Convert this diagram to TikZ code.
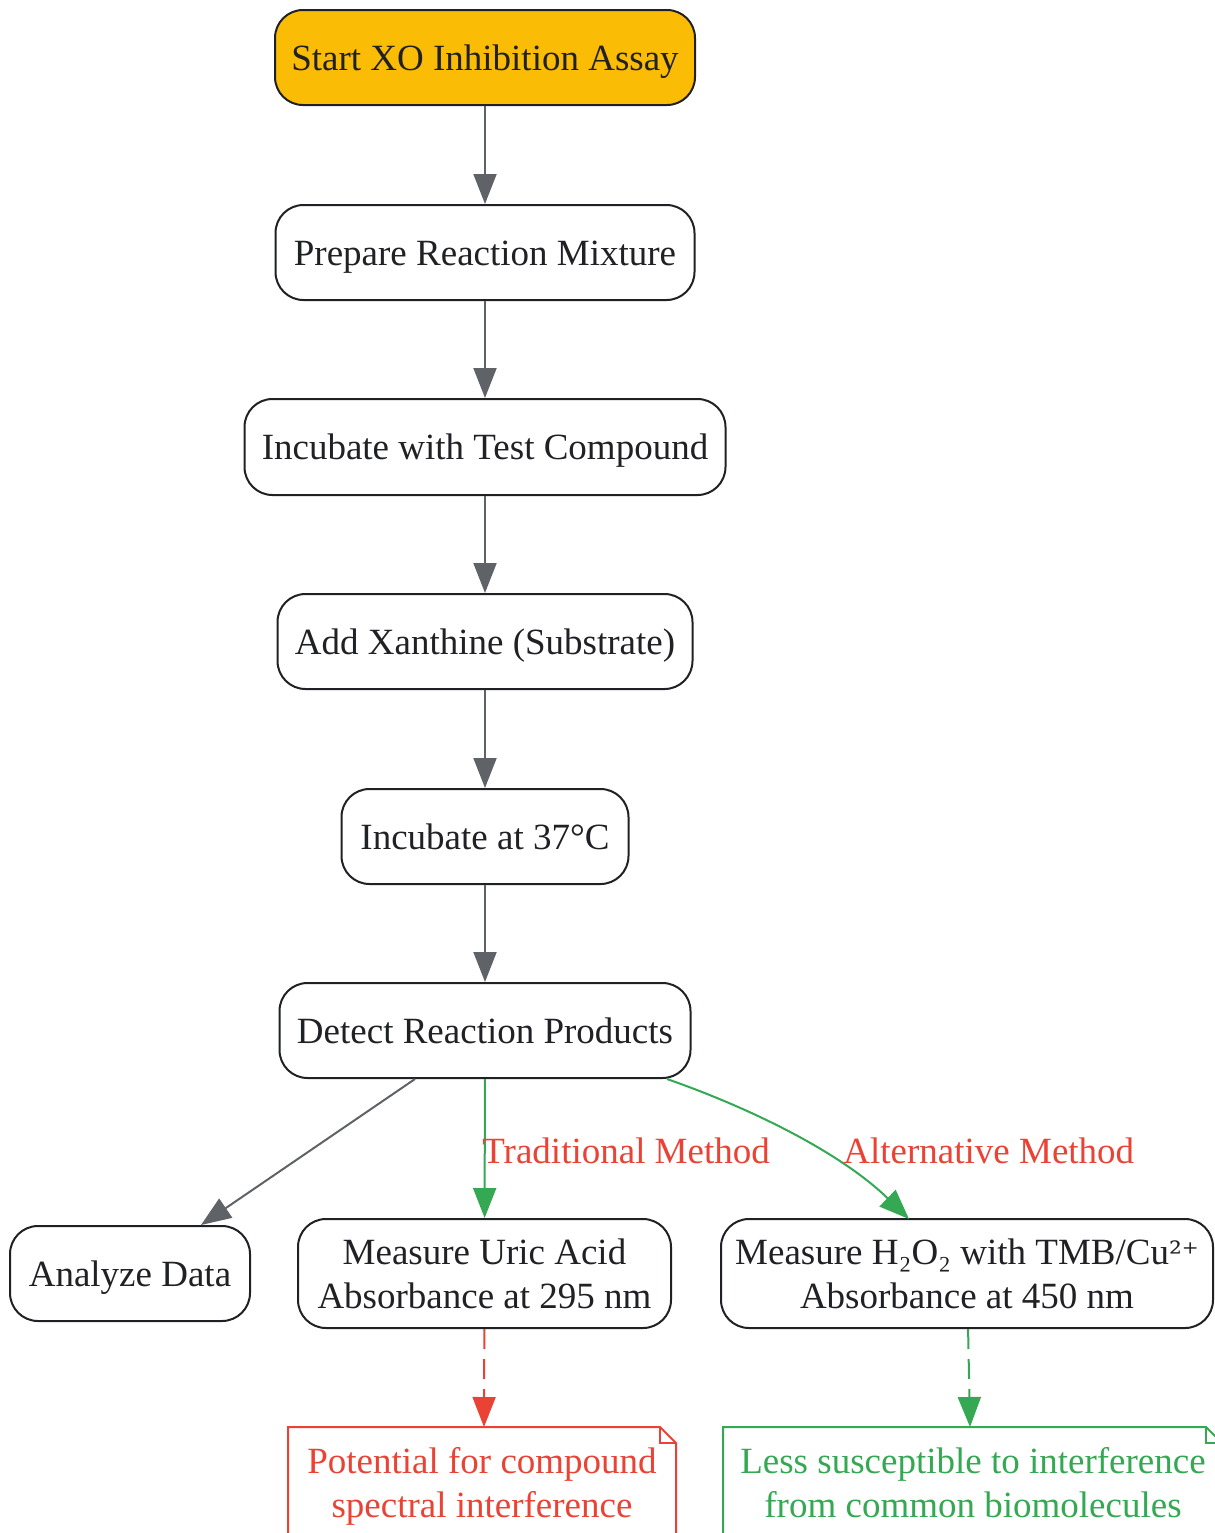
\documentclass[tikz,border=0pt]{standalone}
\usepackage{fontspec}
\setmainfont{Liberation Serif}
\newfontfamily\dvserif{DejaVu Serif}
\usetikzlibrary{arrows.meta}
\definecolor{gold}{HTML}{FBBC05}
\definecolor{edgegray}{HTML}{5F6368}
\definecolor{okgreen}{HTML}{34A853}
\definecolor{badred}{HTML}{EA4335}
\definecolor{txt}{HTML}{202124}
\tikzset{
  stepbox/.style={draw=txt, line width=1pt, rounded corners=14pt, fill=white,
    text=txt, align=center, inner sep=0pt, font=\fontsize{18.5}{22}\selectfont},
  oneline/.style={text height=14.5pt, text depth=2pt},
  tip/.style={-{Triangle[length=15pt,width=11.5pt]}},
  flow/.style={draw=edgegray, line width=1pt, tip},
  good/.style={draw=okgreen, line width=1pt, tip},
  lbl/.style={text=badred, font=\fontsize{18.5}{22}\selectfont, inner sep=0pt, anchor=west},
  notetext/.style={align=center, font=\fontsize{18.5}{22}\selectfont, inner sep=0pt},
  dashlink/.style={line width=1pt, dash pattern=on 10pt off 5pt, tip}
}
\begin{document}
\begin{tikzpicture}[x=0.5pt,y=-0.5pt]
\useasboundingbox (0,0) rectangle (1215,1533);
\clip (0,0) rectangle (1215,1533);
\node[stepbox, oneline, fill=gold, minimum width=210pt, minimum height=47.5pt] (start) at (485,57.5) {Start XO Inhibition Assay};
\node[stepbox, oneline, minimum width=209.5pt, minimum height=47.5pt] (prep) at (485,252.5) {Prepare Reaction Mixture};
\node[stepbox, oneline, minimum width=240.5pt, minimum height=48pt] (inc1) at (485,447) {Incubate with Test Compound};
\node[stepbox, oneline, minimum width=207.5pt, minimum height=47.5pt] (add) at (485,641.5) {Add Xanthine (Substrate)};
\node[stepbox, oneline, minimum width=143.5pt, minimum height=47.5pt] (inc2) at (485,836.5) {Incubate at 37°C};
\node[stepbox, oneline, minimum width=205.5pt, minimum height=47.5pt] (det) at (485,1030.5) {Detect Reaction Products};
\node[stepbox, oneline, minimum width=120pt, minimum height=47.5pt] (ana) at (130,1273.5) {Analyze Data};
\node[stepbox, minimum width=186.5pt, minimum height=54.5pt] (uric) at (484.5,1273.5) {Measure Uric Acid\\Absorbance at 295 nm};
\node[stepbox, minimum width=246pt, minimum height=54.5pt] (hp) at (967,1273.5) {Measure H₂O₂ with TMB/Cu{\dvserif\fontsize{16}{20}\selectfont ²⁺}\\Absorbance at 450 nm};
% notes
\draw[badred, line width=1pt] (288,1560) -- (288,1427) -- (660,1427) -- (676,1443) -- (676,1560);
\draw[badred, line width=0.8pt] (660,1427) -- (660,1443) -- (676,1443);
\node[notetext, text=badred] (n1) at (482,1486) {Potential for compound\\spectral interference};
\draw[okgreen, line width=1pt] (723,1560) -- (723,1427) -- (1206,1427) -- (1222,1443);
\draw[okgreen, line width=0.8pt] (1206,1427) -- (1206,1443) -- (1222,1443);
\node[notetext, text=okgreen] (n2) at (973,1483) {Less susceptible to interference\\from common biomolecules};
\coordinate (n1top) at (484,1427);
\coordinate (n2top) at (970,1427);
\coordinate (dA) at (415,1079);
\coordinate (anaTop) at (201,1225);
\coordinate (dB) at (667,1079);
\coordinate (hpTop) at (909,1219);
% edges
\draw[flow] (start) -- (prep);
\draw[flow] (prep) -- (inc1);
\draw[flow] (inc1) -- (add);
\draw[flow] (add) -- (inc2);
\draw[flow] (inc2) -- (det);
\draw[flow] (dA) -- (anaTop);
\draw[good] (det) -- (uric);
\draw[good] (dB) .. controls (750,1108) and (840,1152) .. (hpTop);
\node[lbl] (tl) at (482,1151) {Traditional Method};
\node[lbl] (al) at (843,1151) {Alternative Method};
\draw[badred, dashlink] (uric) -- (n1top);
\draw[okgreen, dashlink] (hp) -- (n2top);
\end{tikzpicture}
\end{document}
